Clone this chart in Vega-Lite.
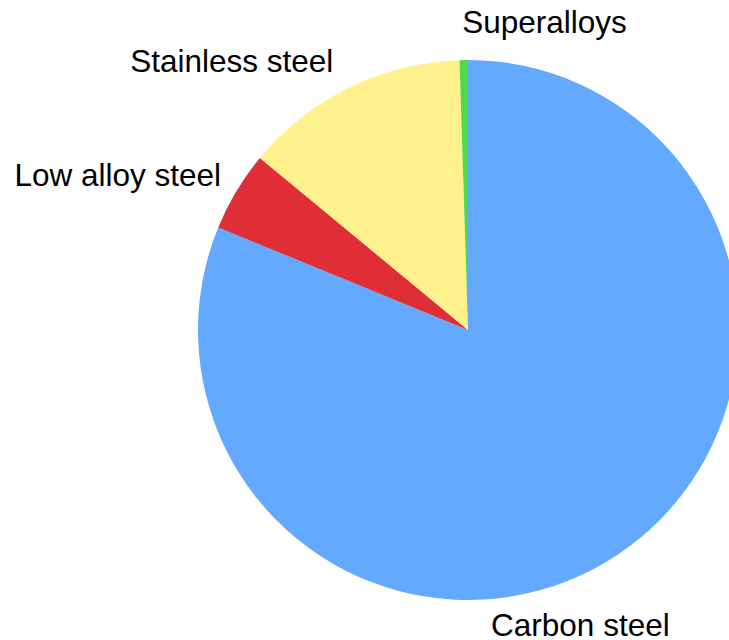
{
  "$schema": "https://vega.github.io/schema/vega-lite/v6.json",
  "width": 522,
  "height": 540,
  "autosize": {"type": "none"},
  "padding": {"left": 207, "top": 60, "right": 0, "bottom": 40},
  "background": "white",
  "config": {"view": {"stroke": null}},
  "data": {
    "values": [
      {"category": "Carbon steel", "value": 81.2},
      {"category": "Low alloy steel", "value": 4.8},
      {"category": "Stainless steel", "value": 13.5},
      {"category": "Superalloys", "value": 0.5}
    ]
  },
  "encoding": {
    "theta": {"field": "value", "type": "quantitative", "stack": true},
    "order": {"field": "category", "type": "nominal", "sort": "ascending"}
  },
  "layer": [
    {
      "mark": {"type": "arc", "radius": 270, "stroke": null},
      "encoding": {
        "color": {
          "field": "category",
          "type": "nominal",
          "scale": {
            "domain": ["Carbon steel", "Low alloy steel", "Stainless steel", "Superalloys"],
            "range": ["#63a9ff", "#df2e35", "#fff28d", "#4cdb4c"]
          },
          "legend": null
        }
      }
    },
    {
      "mark": {"type": "text", "radius": 288, "align": "right", "baseline": "middle", "dy": -5, "font": "Liberation Sans", "fontSize": 31.5, "color": "black"},
      "encoding": {
        "text": {"field": "category"},
        "opacity": {"condition": {"test": "datum.category === 'Low alloy steel'", "value": 1}, "value": 0}
      }
    },
    {
      "mark": {"type": "text", "radius": 297, "align": "right", "baseline": "middle", "dx": -4, "font": "Liberation Sans", "fontSize": 31.5, "color": "black"},
      "encoding": {
        "text": {"field": "category"},
        "opacity": {"condition": {"test": "datum.category === 'Stainless steel'", "value": 1}, "value": 0}
      }
    },
    {
      "mark": {"type": "text", "radius": 306, "align": "left", "baseline": "middle", "dx": -1, "font": "Liberation Sans", "fontSize": 31.5, "color": "black"},
      "encoding": {
        "text": {"field": "category"},
        "opacity": {"condition": {"test": "datum.category === 'Superalloys'", "value": 1}, "value": 0}
      }
    },
    {
      "mark": {"type": "text", "radius": 358, "align": "center", "baseline": "middle", "dx": -87, "font": "Liberation Sans", "fontSize": 31.5, "color": "black"},
      "encoding": {
        "text": {"field": "category"},
        "opacity": {"condition": {"test": "datum.category === 'Carbon steel'", "value": 1}, "value": 0}
      }
    }
  ]
}
